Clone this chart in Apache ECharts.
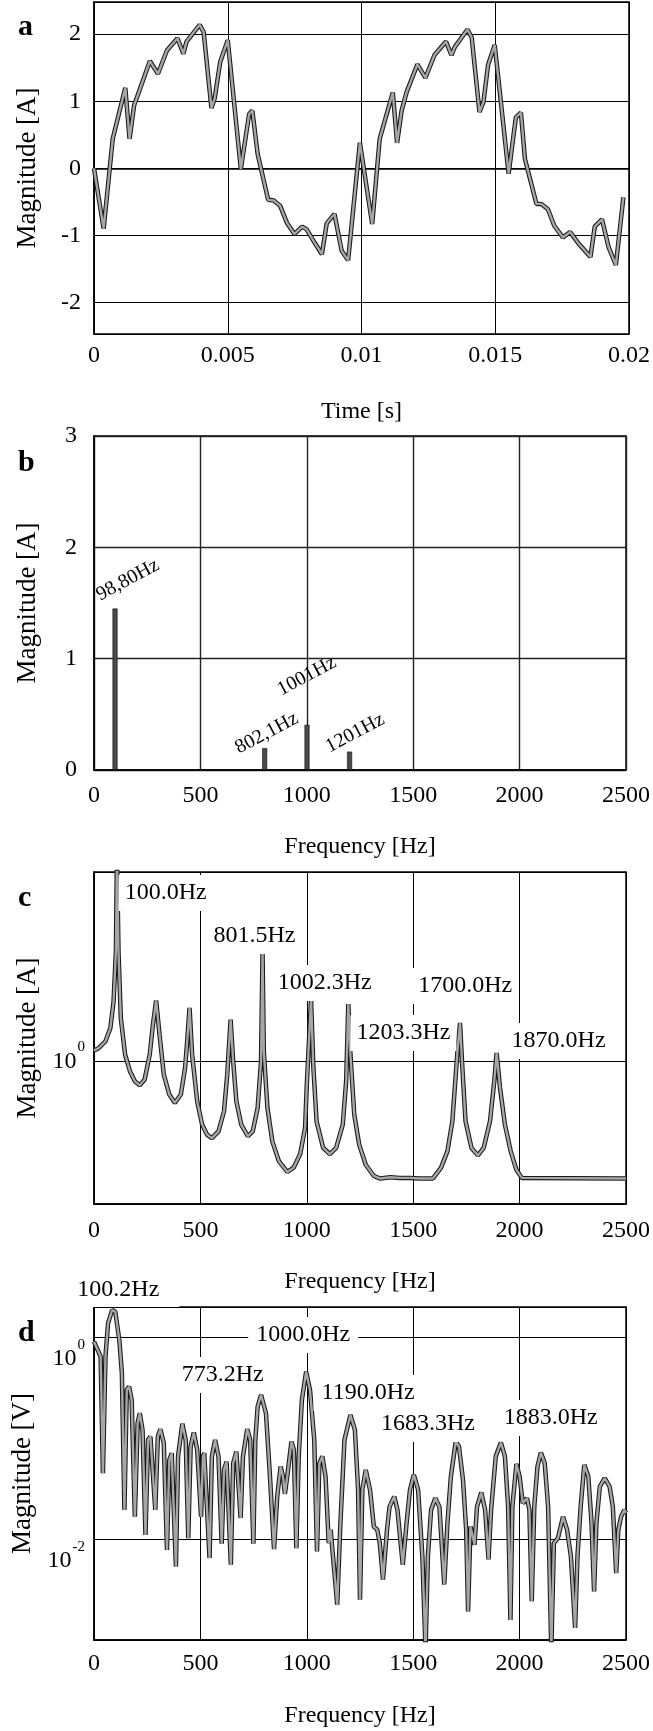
<!DOCTYPE html>
<html>
<head>
<meta charset="utf-8">
<script src="https://cdn.jsdelivr.net/npm/echarts@6/dist/echarts.min.js"></script>
<style>
  html, body { margin: 0; padding: 0; background: #fff; }
  #chart { width: 653px; height: 1731px; }
</style>
</head>
<body>
<div id="chart"></div>
<script>
const FONT = '"Liberation Serif", "Times New Roman", serif';

// a: current waveform [time s, current A]
const waveA = [
  [0, 0], [0.00036, -0.90], [0.0007, 0.44], [0.00117, 1.20], [0.00133, 0.44], [0.0015, 0.94],
  [0.00209, 1.60], [0.00239, 1.41], [0.00273, 1.76], [0.00312, 1.94], [0.00334, 1.71], [0.00346, 1.89],
  [0.00395, 2.14], [0.0041, 2.03], [0.00439, 0.90], [0.00451, 1.04], [0.00472, 1.59], [0.005, 1.91],
  [0.00549, -0.01], [0.0058, 0.81], [0.00592, 0.86], [0.00612, 0.21], [0.00651, -0.47], [0.00672, -0.48],
  [0.00696, -0.56], [0.00721, -0.81], [0.00749, -0.98], [0.00778, -0.87], [0.00795, -0.91], [0.00825, -1.11],
  [0.00852, -1.28], [0.0087, -0.82], [0.00899, -0.68], [0.00926, -1.23], [0.0095, -1.37], [0.00994, 0.38],
  [0.0104, -0.83], [0.01068, 0.44], [0.01117, 1.13], [0.01133, 0.38], [0.0115, 0.86], [0.01169, 1.14],
  [0.01209, 1.55], [0.01239, 1.35], [0.01273, 1.69], [0.01316, 1.89], [0.01336, 1.69], [0.01349, 1.81],
  [0.01396, 2.07], [0.01412, 1.95], [0.01441, 0.84], [0.01456, 0.99], [0.01473, 1.54], [0.01498, 1.84],
  [0.0155, -0.08], [0.01577, 0.76], [0.01596, 0.83], [0.01611, 0.14], [0.01654, -0.53], [0.01672, -0.53],
  [0.01697, -0.61], [0.01721, -0.86], [0.01753, -1.03], [0.0178, -0.95], [0.01813, -1.13], [0.01856, -1.32],
  [0.01872, -0.87], [0.01899, -0.76], [0.01924, -1.18], [0.01951, -1.44], [0.01979, -0.43]
];
const timeTicks = [0, 0.005, 0.01, 0.015, 0.02];
const currentRangeA = [-2.47, 2.48];

// b: spectral lines
const stemFreqB = [98.8, 802.1, 1001, 1201];
const stemAmpB = [1.45, 0.196, 0.406, 0.165];
const stemTextB = ['98,80Hz', '802,1Hz', '1001Hz', '1201Hz'];
const stemTextPosB = [[159, 1.707], [812, 0.331], [1000, 0.843], [1227, 0.331]];
const ampTicksB = [0, 1, 2, 3];

const freqTicks = [0, 500, 1000, 1500, 2000, 2500];

// c: current spectrum [Hz, A]
const spectrumC = [
  [0, 1.080], [23, 1.101], [54, 1.155], [77, 1.271], [92, 1.540], [103, 2.208], [108, 4.5], [115, 2.208],
  [126, 1.365], [146, 1.050], [169, 0.931], [192, 0.866], [215, 0.841], [238, 0.877], [262, 1.050],
  [277, 1.303], [292, 1.549], [308, 1.211], [328, 0.908], [354, 0.787], [380, 0.741], [408, 0.787],
  [428, 0.953], [438, 1.155], [449, 1.469], [461, 1.050], [485, 0.750], [508, 0.634], [531, 0.590],
  [554, 0.575], [585, 0.604], [611, 0.698], [626, 0.908], [642, 1.349], [654, 1.0], [669, 0.750],
  [692, 0.634], [723, 0.583], [746, 0.604], [769, 0.715], [785, 1.0], [792, 2.183], [798, 1.074],
  [815, 0.715], [838, 0.562], [869, 0.487], [908, 0.451], [938, 0.465], [969, 0.513], [992, 0.619],
  [1000, 0.845], [1020, 1.560], [1031, 0.953], [1046, 0.649], [1077, 0.536], [1108, 0.513], [1138, 0.536],
  [1169, 0.634], [1185, 0.866], [1195, 1.510], [1205, 1.05], [1223, 0.681], [1246, 0.550], [1277, 0.475],
  [1315, 0.438], [1346, 0.430], [1392, 0.434], [1438, 0.432], [1485, 0.432], [1531, 0.430], [1592, 0.430],
  [1631, 0.465], [1661, 0.524], [1684, 0.649], [1708, 1.074], [1720, 1.318], [1731, 0.953], [1746, 0.649],
  [1774, 0.536], [1804, 0.508], [1831, 0.536], [1861, 0.649], [1881, 0.866], [1892, 1.062], [1908, 0.826],
  [1931, 0.634], [1958, 0.524], [1985, 0.458], [2011, 0.432], [2500, 0.430]
];
const rangeC = [0.358, 3.905];
const peakTextC = ['100.0Hz', '801.5Hz', '1002.3Hz', '1203.3Hz', '1700.0Hz', '1870.0Hz'];
const peakTextPosC = [[337, 3.36], [754, 2.464], [1084, 1.757], [1454, 1.226], [1744, 1.719], [2183, 1.157]];

// d: voltage spectrum [Hz, V]
const spectrumD = [
  [0, 0.906], [31, 0.646], [42, 0.0450], [54, 0.646], [66, 1.377], [85, 1.862], [100, 1.795], [119, 0.942],
  [131, 0.441], [143, 0.0195], [154, 0.302], [165, 0.325], [177, 0.240], [192, 0.0167], [205, 0.141],
  [215, 0.177], [228, 0.121], [242, 0.0110], [254, 0.0964], [265, 0.104], [288, 0.0195], [300, 0.104],
  [312, 0.123], [328, 0.0891], [343, 0.00783], [354, 0.0610], [365, 0.0711], [385, 0.00537], [395, 0.0661],
  [415, 0.139], [431, 0.0962], [443, 0.0102], [454, 0.0826], [469, 0.114], [485, 0.0767], [503, 0.0167],
  [512, 0.0661], [518, 0.0711], [543, 0.00649], [554, 0.0661], [569, 0.0962], [585, 0.0661], [600, 0.00899],
  [611, 0.0486], [623, 0.0587], [643, 0.00557], [654, 0.0565], [669, 0.0738], [689, 0.0162], [700, 0.0661],
  [720, 0.123], [734, 0.0964], [749, 0.00899], [758, 0.0964], [769, 0.206], [785, 0.269], [808, 0.177],
  [826, 0.0450], [846, 0.00794], [861, 0.0264], [877, 0.0525], [888, 0.0417], [897, 0.0281], [908, 0.0417],
  [928, 0.0927], [939, 0.0767], [951, 0.00813], [962, 0.0661], [977, 0.240], [997, 0.457], [1015, 0.301],
  [1035, 0.0964], [1048, 0.00755], [1059, 0.0565], [1073, 0.0661], [1088, 0.0417], [1103, 0.00912],
  [1112, 0.0124], [1143, 0.00224], [1158, 0.0145], [1177, 0.0964], [1205, 0.170], [1226, 0.121],
  [1241, 0.0309], [1250, 0.00251], [1261, 0.0309], [1277, 0.0486], [1297, 0.0309], [1315, 0.0133],
  [1331, 0.0124], [1343, 0.00912], [1358, 0.00398], [1377, 0.0124], [1389, 0.0210], [1411, 0.0264],
  [1426, 0.0195], [1451, 0.00557], [1469, 0.0145], [1485, 0.0309], [1503, 0.0434], [1523, 0.0309],
  [1543, 0.00676], [1558, 0.0008], [1569, 0.00676], [1584, 0.0195], [1604, 0.0255], [1623, 0.0210],
  [1646, 0.00355], [1661, 0.0145], [1677, 0.0417], [1700, 0.0927], [1715, 0.0828], [1734, 0.0386],
  [1749, 0.0124], [1758, 0.00192], [1769, 0.0133], [1780, 0.0106], [1788, 0.00879], [1800, 0.0210],
  [1820, 0.0290], [1838, 0.0195], [1854, 0.00631], [1866, 0.0195], [1888, 0.0661], [1912, 0.0906],
  [1931, 0.0661], [1946, 0.0210], [1957, 0.00158], [1966, 0.0210], [1985, 0.0557], [2000, 0.0417],
  [2015, 0.0227], [2035, 0.0255], [2046, 0.0195], [2057, 0.00242], [2069, 0.0210], [2084, 0.0525],
  [2100, 0.0721], [2118, 0.0565], [2134, 0.0210], [2149, 0.0008], [2161, 0.00912], [2180, 0.0102],
  [2204, 0.0167], [2223, 0.0124], [2241, 0.00676], [2261, 0.00132], [2272, 0.00676], [2287, 0.0210],
  [2304, 0.0545], [2323, 0.0417], [2338, 0.0145], [2350, 0.00303], [2361, 0.0145], [2377, 0.0332],
  [2400, 0.0402], [2423, 0.0332], [2438, 0.0210], [2454, 0.00460], [2464, 0.0124], [2477, 0.0167],
  [2492, 0.0195], [2500, 0.0182]
];
const rangeD = [0.001, 2];
const peakTextD = ['100.2Hz', '773.2Hz', '1000.0Hz', '1190.0Hz', '1683.3Hz', '1883.0Hz'];
const peakTextPosD = [[152, 2.94], [605, 0.423], [983, 1.054], [1288, 0.281], [1569, 0.1386], [2146, 0.159]];

const chart = echarts.init(document.getElementById('chart'));

const grids = [
  { left: 94, top: 2, width: 544, height: 332 },
  { left: 94, top: 436, width: 544, height: 334 },
  { left: 94, top: 872, width: 544, height: 332 },
  { left: 94, top: 1307, width: 544, height: 333 }
].map(g => Object.assign({ show: true, borderColor: '#000', borderWidth: 1.5 }, g));

function baseAxis(idx) {
  return {
    gridIndex: idx,
    axisLine: { lineStyle: { color: '#000', width: 1.5 } },
    axisTick: { show: false },
    splitLine: { show: true, lineStyle: { color: '#000', width: 1 } },
    nameLocation: 'middle',
    nameTextStyle: { fontFamily: FONT, fontSize: 27, color: '#000' }
  };
}

function xAxis(idx, ticks, name, nameGap, margin) {
  return Object.assign(baseAxis(idx), {
    type: 'value',
    min: ticks[0],
    max: ticks[ticks.length - 1],
    interval: ticks[1] - ticks[0],
    name: name,
    nameGap: nameGap,
    nameTextStyle: { fontFamily: FONT, fontSize: 24, color: '#000' },
    axisLabel: { fontFamily: FONT, fontSize: 24, color: '#000', margin: margin, formatter: v => String(v) }
  });
}

// log label like 10^0, 10^-2
function powLabel(v) {
  const e = Math.round(Math.log10(v) * 1000) / 1000;
  if (e === 0) return '10{s|0}';
  if (e === -2) return '10{s|-2}';
  return '';
}

const yAxes = [
  Object.assign(baseAxis(0), {
    type: 'value', min: currentRangeA[0], max: currentRangeA[1], name: 'Magnitude [A]', nameGap: 53,
    axisLabel: { fontFamily: FONT, fontSize: 24, color: '#000', margin: 13,
      formatter: v => Number.isInteger(v) ? String(v) : '' }
  }),
  Object.assign(baseAxis(1), {
    type: 'value', min: ampTicksB[0], max: ampTicksB[ampTicksB.length - 1], interval: 1,
    name: 'Magnitude [A]', nameGap: 53,
    splitLine: { show: true, lineStyle: { color: '#222', width: 1.4 } },
    axisLabel: { fontFamily: FONT, fontSize: 24, color: '#000', margin: 17 }
  }),
  Object.assign(baseAxis(2), {
    type: 'log', logBase: 10, min: rangeC[0], max: rangeC[1], name: 'Magnitude [A]', nameGap: 53,
    axisLabel: { fontFamily: FONT, fontSize: 24, color: '#000', margin: 9, formatter: powLabel,
      rich: { s: { fontFamily: FONT, fontSize: 15, color: '#000', padding: [0, 0, 28, 1] } } }
  }),
  Object.assign(baseAxis(3), {
    type: 'log', logBase: 100, min: rangeD[0], max: rangeD[1], name: 'Magnitude [V]', nameGap: 53,
    axisLabel: { fontFamily: FONT, fontSize: 24, color: '#000', margin: 9, formatter: powLabel,
      verticalAlign: 'top',
      rich: { s: { fontFamily: FONT, fontSize: 15, color: '#000', padding: [0, 0, 28, 1] } } }
  })
];

const xAxes = [
  xAxis(0, timeTicks, 'Time [s]', 66, 10),
  xAxis(1, freqTicks, 'Frequency [Hz]', 65, 14),
  xAxis(2, freqTicks, 'Frequency [Hz]', 66, 15),
  xAxis(3, freqTicks, 'Frequency [Hz]', 64, 12)
];
xAxes[1].splitLine = { show: true, lineStyle: { color: '#222', width: 1.4 } };

function curve(idx, data) {
  return [
    { type: 'line', xAxisIndex: idx, yAxisIndex: idx, data: data, symbol: 'none',
      lineStyle: { color: '#1a1a1a', width: 4.5 }, silent: true, z: 2 },
    { type: 'line', xAxisIndex: idx, yAxisIndex: idx, data: data, symbol: 'none',
      lineStyle: { color: '#a6a6a6', width: 2.4 }, silent: true, z: 3 }
  ];
}

function tags(idx, texts, pos, label) {
  return {
    type: 'scatter', xAxisIndex: idx, yAxisIndex: idx, symbolSize: 0, clip: false, silent: true, z: 10,
    itemStyle: { opacity: 1 },
    data: texts.map((t, i) => ({ name: t, value: pos[i] })),
    label: Object.assign({ show: true, position: 'inside', formatter: '{b}', opacity: 1,
      fontFamily: FONT, fontSize: 24, color: '#000', textBorderWidth: 0 }, label)
  };
}

const tagsD = tags(3, peakTextD, peakTextPosD, { backgroundColor: '#fff', padding: [6, 8] });
tagsD.data[0].label = { padding: [6, 20, 4, 4] };

const series = [].concat(
  curve(0, waveA),
  [{
    type: 'bar', xAxisIndex: 1, yAxisIndex: 1, barWidth: 5, silent: true,
    data: stemFreqB.map((f, i) => [f, stemAmpB[i]]),
    itemStyle: { color: '#4a4a4a', borderColor: '#111', borderWidth: 0.6 }
  }],
  [tags(1, stemTextB, stemTextPosB, { rotate: 28, fontSize: 20 })],
  curve(2, spectrumC),
  [tags(2, peakTextC, peakTextPosC, { backgroundColor: '#fff', padding: [6, 6] })],
  curve(3, spectrumD),
  [tagsD]
);

const letters = [['a', 27], ['b', 463], ['c', 898], ['d', 1333]];

chart.setOption({
  animation: false,
  backgroundColor: '#fff',
  grid: grids,
  xAxis: xAxes,
  yAxis: yAxes,
  series: series,
  graphic: letters.map(([t, y]) => ({
    type: 'text', x: 18, y: y,
    style: { text: t, font: 'bold 30px "Liberation Serif"', fill: '#000', verticalAlign: 'middle' }
  }))
});
</script>
</body>
</html>
